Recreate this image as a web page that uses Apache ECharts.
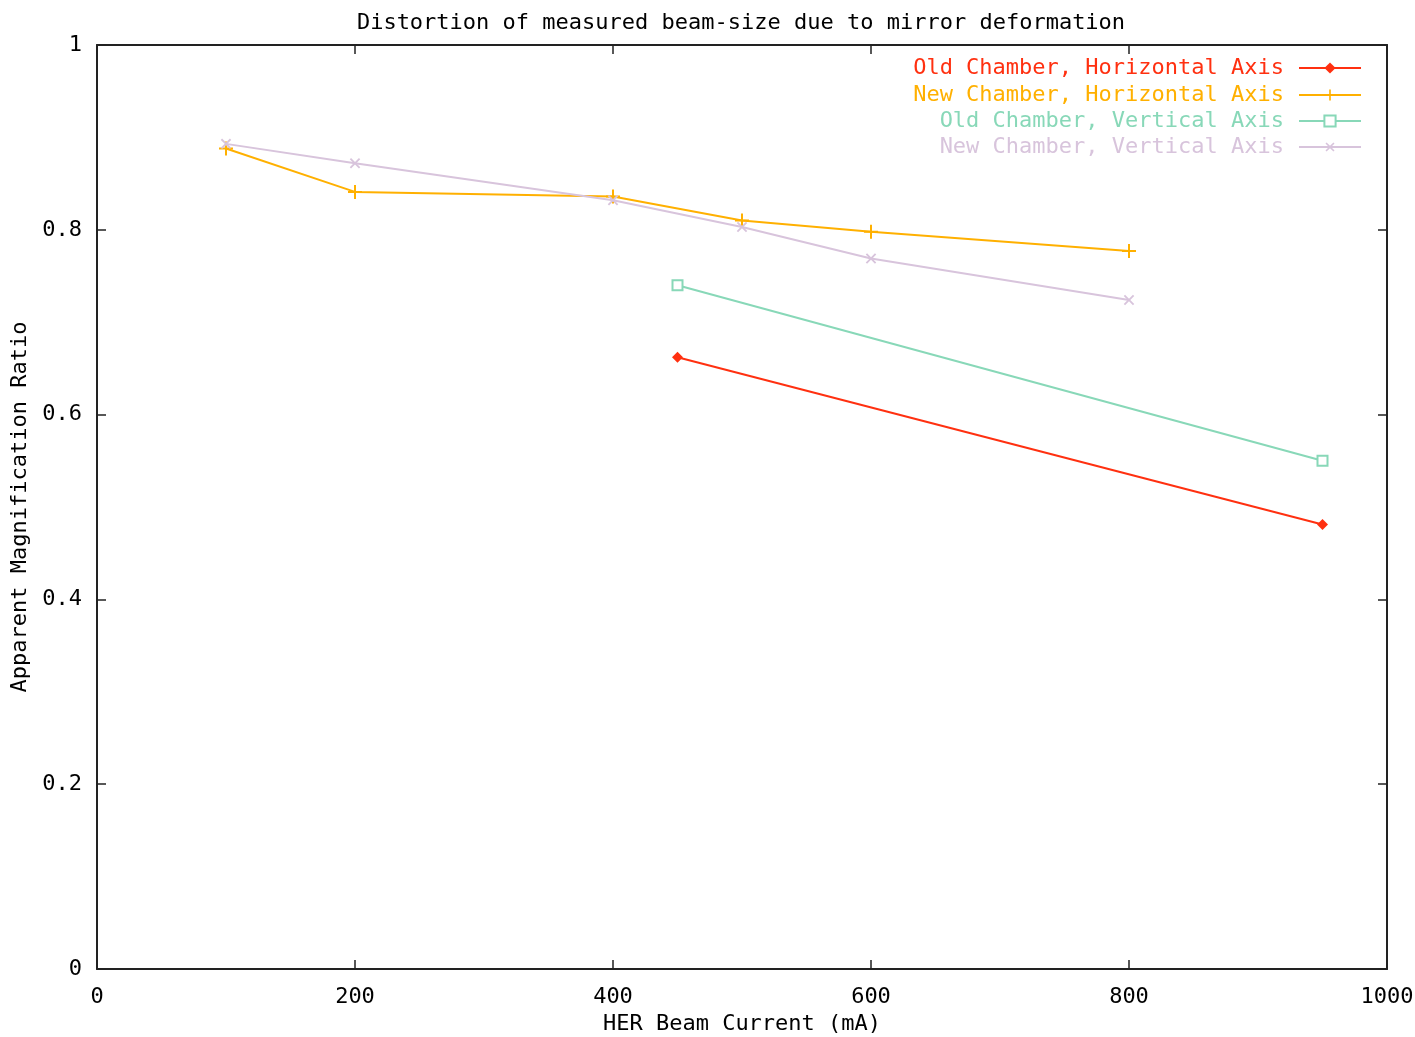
<!DOCTYPE html>
<html>
<head>
<meta charset="utf-8">
<script src="https://cdn.jsdelivr.net/npm/echarts@6/dist/echarts.min.js"></script>
<style>
  html, body { margin: 0; padding: 0; background: #fff; }
  #chart { width: 1415px; height: 1037px; }
</style>
</head>
<body>
<div id="chart"></div>
<script>
// values
var seriesNames = [
  'Old Chamber, Horizontal Axis',
  'New Chamber, Horizontal Axis',
  'Old Chamber, Vertical Axis',
  'New Chamber, Vertical Axis'
];
var oldHorizX = [450, 950];
var oldHorizY = [0.662, 0.481];
var newHorizX = [100, 200, 400, 500, 600, 800];
var newHorizY = [0.888, 0.841, 0.836, 0.810, 0.798, 0.777];
var oldVertX = [450, 950];
var oldVertY = [0.740, 0.550];
var newVertX = [100, 200, 400, 500, 600, 800];
var newVertY = [0.893, 0.872, 0.832, 0.803, 0.769, 0.724];
var xTicks = [0, 200, 400, 600, 800, 1000];
var yTicks = [0, 0.2, 0.4, 0.6, 0.8, 1];

var colors = ['#ff3010', '#ffb000', '#88d8b8', '#d8c4dc'];
var font = 'DejaVu Sans Mono';
var plusPath = 'path://M6,0h2v6h6v2h-6v6h-2v-6h-6v-2h6z';

function pairs(xs, ys) {
  return xs.map(function(x, i) { return [x, ys[i]]; });
}

var chart = echarts.init(document.getElementById('chart'));

function axisBase(extra) {
  var a = {
    type: 'value',
    axisLine: { show: true, onZero: false, lineStyle: { color: '#222', width: 2 } },
    axisTick: { show: true, inside: true, length: 9, lineStyle: { color: '#222', width: 1.5 } },
    splitLine: { show: false },
    axisLabel: { show: false }
  };
  for (var k in extra) a[k] = extra[k];
  return a;
}

var symbols = [
  { symbol: 'diamond', symbolSize: 11, symbolRotate: 0 },
  { symbol: plusPath, symbolSize: 14, symbolRotate: 0 },
  { symbol: 'emptyRect', symbolSize: 10, symbolRotate: 0 },
  { symbol: plusPath, symbolSize: 13, symbolRotate: 45 }
];
var datasets = [
  pairs(oldHorizX, oldHorizY),
  pairs(newHorizX, newHorizY),
  pairs(oldVertX, oldVertY),
  pairs(newVertX, newVertY)
];
var legendTops = [57, 84, 110, 136];

chart.setOption({
  animation: false,
  backgroundColor: '#fff',
  textStyle: { fontFamily: font },
  title: {
    text: 'Distortion of measured beam-size due to mirror deformation',
    left: 736,
    textAlign: 'center',
    top: 7,
    textStyle: { fontFamily: font, fontSize: 22, fontWeight: 'normal', color: '#000' }
  },
  legend: seriesNames.map(function(name, i) {
    return {
      data: [name],
      orient: 'vertical',
      right: 53,
      top: legendTops[i],
      padding: 0,
      align: 'right',
      itemWidth: 62,
      itemHeight: 14,
      selectedMode: false,
      textStyle: {
        fontFamily: font, fontSize: 22, color: colors[i],
        padding: [0, 10, 0, 0]
      }
    };
  }),
  grid: { left: 97, right: 28, top: 45, bottom: 68, containLabel: false, outerBoundsMode: 'none' },
  xAxis: [
    axisBase({
      position: 'bottom',
      min: xTicks[0], max: xTicks[xTicks.length - 1], interval: 200,
      axisLabel: {
        show: true, margin: 17, color: '#000', fontFamily: font, fontSize: 22,
        formatter: function(v) { return String(v); }
      },
      name: 'HER Beam Current (mA)',
      nameLocation: 'middle',
      nameGap: 44,
      nameTextStyle: { fontFamily: font, fontSize: 22, color: '#000' }
    }),
    axisBase({ position: 'top', min: 0, max: 1000, interval: 200 })
  ],
  yAxis: [
    axisBase({
      position: 'left',
      min: yTicks[0], max: yTicks[yTicks.length - 1], interval: 0.2,
      axisLabel: { show: true, margin: 15, color: '#000', fontFamily: font, fontSize: 22 },
      name: 'Apparent Magnification Ratio',
      nameLocation: 'middle',
      nameGap: 52,
      nameTextStyle: { fontFamily: font, fontSize: 22, color: '#000' }
    }),
    axisBase({ position: 'right', min: 0, max: 1, interval: 0.2 })
  ],
  series: seriesNames.map(function(name, i) {
    return {
      name: name,
      type: 'line',
      xAxisIndex: 0,
      yAxisIndex: 0,
      data: datasets[i],
      color: colors[i],
      symbol: symbols[i].symbol,
      symbolSize: symbols[i].symbolSize,
      symbolRotate: symbols[i].symbolRotate,
      showAllSymbol: true,
      lineStyle: { width: 2, color: colors[i] },
      itemStyle: { color: colors[i], borderColor: colors[i], borderWidth: i === 2 ? 2 : 0 }
    };
  })
});
</script>
</body>
</html>
